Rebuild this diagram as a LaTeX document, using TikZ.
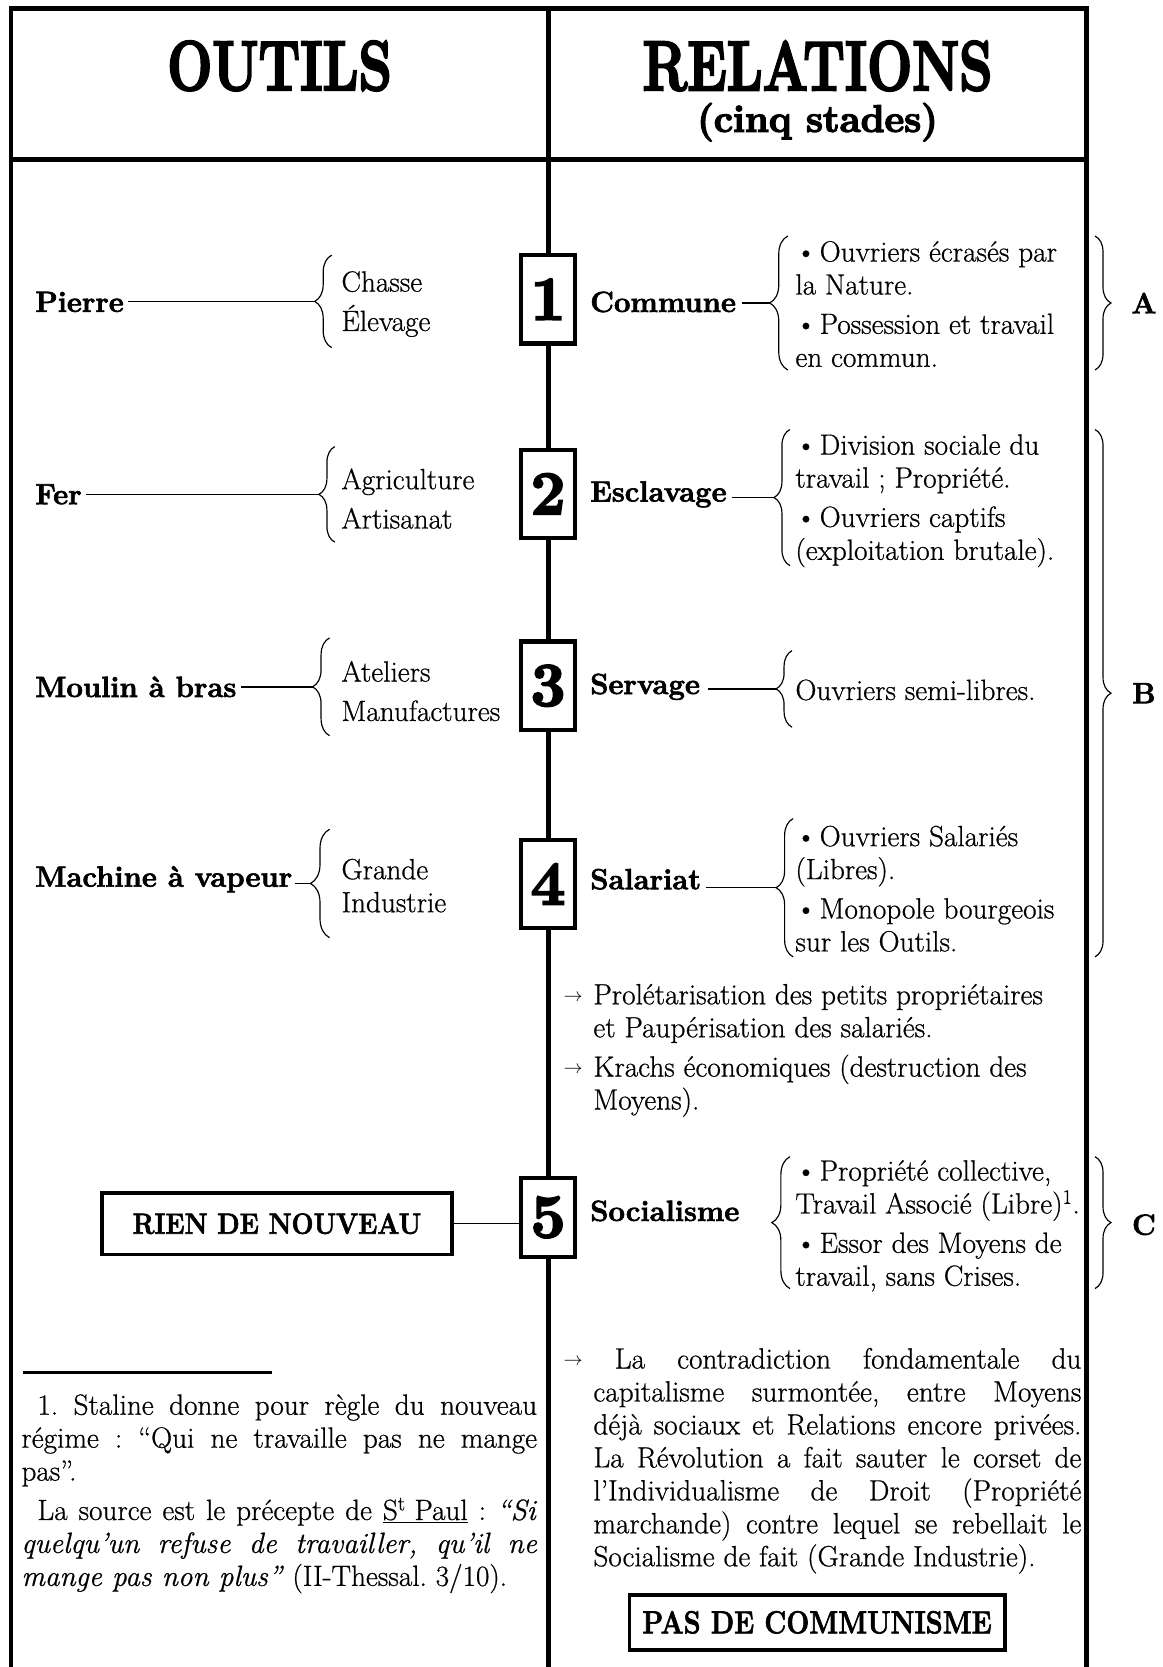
\documentclass[tikz,border=0pt]{standalone}
\usepackage{fontspec}
\setmainfont{Latin Modern Roman}[UprightFeatures={FakeBold=0.7}, ItalicFeatures={FakeBold=0.7}, BoldFeatures={FakeBold=2.2}]
\newfontfamily\heavyfont{Latin Modern Roman}[BoldFeatures={FakeBold=3.5}]
\usepackage{graphicx}
\usetikzlibrary{decorations.pathreplacing,calc}
\frenchspacing

\newlength\fitw
\newcommand\justln[2]{\settowidth\fitw{#2}\ifdim\fitw>#1\relax\resizebox{#1}{\height}{#2}\else\makebox[#1][s]{#2}\fi}
\newcommand\capln[2]{\settowidth\fitw{#2}\ifdim\fitw>#1\relax\resizebox{#1}{\height}{#2}\else#2\fi}
\newcommand\Rl[1]{\capln{270pt}{#1}}
\newcommand\bul{\textbullet\kern3pt}
\newcommand\sarr{\raisebox{0.1em}{\scalebox{0.72}{$\rightarrow$}}}
\newcommand\arr{\makebox[28pt][l]{\sarr}}
\newcommand\bodyfont{\fontsize{27.5}{31}\selectfont}

\tikzset{
  frame/.style={line width=4pt},
  conn/.style={line width=1.4pt},
  brc/.style={line width=1.1pt, decorate, decoration={brace, amplitude=#1}},
  brc/.default=16pt,
  lbl/.style={font=\bodyfont\bfseries, inner sep=0pt, anchor=west},
  txt/.style={font=\bodyfont, inner sep=0pt, anchor=west, align=left},
  numbox/.style={draw, line width=4pt, fill=white, minimum width=51pt, minimum height=83pt, inner sep=0pt, font=\heavyfont\fontsize{58}{58}\selectfont\bfseries},
  capbox/.style={draw, line width=3.5pt, fill=white, inner sep=0pt},
}

\begin{document}
\begin{tikzpicture}[x=1pt,y=-1pt]
\useasboundingbox (0,0) rectangle (1093,1568);

% frame
\draw[frame] (10,1568) -- (10,8) -- (1022,8) -- (1022,1568);
\draw[frame] (10,150) -- (1022,150);
\draw[frame] (516,8) -- (516,1568);

% headers
\node (hout) at (263,62) {\scalebox{0.76}[1]{\heavyfont\fontsize{66}{66}\selectfont\bfseries OUTILS}};
\node (hrel) at (769,62) {\scalebox{0.76}[1]{\heavyfont\fontsize{66}{66}\selectfont\bfseries RELATIONS}};
\node (hcinq) at (769,115) {\heavyfont\fontsize{36}{36}\selectfont\bfseries (cinq stades)};

% number boxes
\node[numbox] (n1) at (515.5,281.5) {1};
\node[numbox] (n2) at (515.5,464.5) {2};
\node[numbox] (n3) at (515.5,645) {3};
\node[numbox] (n4) at (515.5,831.5) {4};
\node[numbox, minimum height=74pt] (n5) at (515.5,1145) {5};

% left labels
\node[lbl] (pierre) at (33,284) {Pierre};
\node[lbl] (fer) at (33,465) {Fer};
\node[lbl] (moulin) at (33,646) {Moulin à bras};
\node[lbl] (machine) at (33,827) {Machine à vapeur};

% left braces and tips
\coordinate (tL1) at (296,283.5);
\coordinate (tL2) at (300,465);
\coordinate (tL3) at (294,646);
\coordinate (tL4) at (292,831);
\draw[brc=16pt] (312,327) -- (312,240);
\draw[brc=15pt] (315,510) -- (315,420);
\draw[brc=16pt] (310,692) -- (310,600);
\draw[brc=18pt] (310,882) -- (310,780);
\draw[conn] ([xshift=4pt]pierre.east |- tL1) -- (tL1);
\draw[conn] ([xshift=4pt]fer.east |- tL2) -- (tL2);
\draw[conn] ([xshift=4pt]moulin.east |- tL3) -- (tL3);
\draw[conn] ([xshift=2pt]machine.east |- tL4) -- (tL4);

% left text blocks
\node[txt] (t1l) at (321,286) {Chasse\\[6pt]Élevage};
\node[txt] (t2l) at (321,469) {Agriculture\\[6pt]Artisanat};
\node[txt] (t3l) at (321,650) {Ateliers\\[6pt]Manufactures};
\node[txt] (t4l) at (321,833) {Grande\\Industrie};

% right labels
\node[lbl] (commune) at (555,284) {Commune};
\node[lbl] (esclavage) at (555,465) {Esclavage};
\node[lbl] (servage) at (555,646) {Servage};
\node[lbl] (salariat) at (555,827) {Salariat};
\node[lbl] (socialisme) at (555,1139) {Socialisme};

% right inner braces
\coordinate (tR1) at (724,285);
\coordinate (tR2) at (728,468);
\coordinate (tR3) at (730,648);
\coordinate (tR4) at (730,835);
\draw[brc=17pt] (741,348) -- (741,222);
\draw[brc=15pt] (743,532) -- (743,404);
\draw[brc=15pt] (745,684) -- (745,612);
\draw[brc=16pt] (746,900) -- (746,770);
\draw[brc=17pt] (743,1212) -- (743,1088);
\draw[conn] ([xshift=5pt]commune.east |- tR1) -- (tR1);
\draw[conn] ([xshift=5pt]esclavage.east |- tR2) -- (tR2);
\draw[conn] ([xshift=7pt]servage.east |- tR3) -- (tR3);
\draw[conn] ([xshift=4pt]salariat.east |- tR4) -- (tR4);

% right text blocks
\node[txt] (t1r) at (748,286) {\Rl{\bul Ouvriers écrasés par}\\\Rl{la Nature.}\\[6pt]\Rl{\bul Possession et travail}\\\Rl{en commun.}};
\node[txt] (t2r) at (748,471) {\Rl{\bul Division sociale du}\\\Rl{travail ; Propriété.}\\[6pt]\Rl{\bul Ouvriers captifs}\\\Rl{(exploitation brutale).}};
\node[txt] (t3r) at (748,649) {Ouvriers semi-libres.};
\node[txt] (t4r) at (748,836) {\Rl{\bul Ouvriers Salariés}\\\Rl{(Libres).}\\[6pt]\Rl{\bul Monopole bourgeois}\\\Rl{sur les Outils.}};
\node[txt] (t5r) at (748,1153) {\Rl{\bul Propriété collective,}\\\Rl{Travail Associé (Libre)\textsuperscript{1}.}\\[6pt]\Rl{\bul Essor des Moyens de}\\\Rl{travail, sans Crises.}};

% outer braces
\draw[brc=15pt] (1030,222) -- (1030,348);
\draw[brc=15pt] (1030,404) -- (1030,900);
\draw[brc=15pt] (1030,1088) -- (1030,1212);
\node[lbl, anchor=center] (la) at (1076,285) {A};
\node[lbl, anchor=center] (lb) at (1076,652) {B};
\node[lbl, anchor=center] (lc) at (1076,1152) {C};

% consequences of stage 4
\node[txt] (cons4) at (530,988) {\arr\capln{459pt}{Prolétarisation des petits propriétaires}\\
\hspace*{28pt}et Paupérisation des salariés.\\[6pt]
\arr\capln{459pt}{Krachs économiques (destruction des}\\
\hspace*{28pt}Moyens).};

% stage 5
\node[capbox, minimum width=329pt, minimum height=58pt] (rien) at (260.5,1151) {\scalebox{0.89}[1]{\bodyfont\bfseries RIEN DE NOUVEAU}};
\draw[conn] (rien.east) -- (rien.east -| n5.west);

% paragraph
\node[txt] (para) at (530,1374) {\justln{487pt}{\sarr{} La contradiction fondamentale du}\\
\hspace*{28pt}\justln{459pt}{capitalisme surmontée, entre Moyens}\\
\hspace*{28pt}\justln{459pt}{déjà sociaux et Relations encore privées.}\\
\hspace*{28pt}\justln{459pt}{La Révolution a fait sauter le corset de}\\
\hspace*{28pt}\justln{459pt}{l’Individualisme de Droit (Propriété}\\
\hspace*{28pt}\justln{459pt}{marchande) contre lequel se rebellait le}\\
\hspace*{28pt}\capln{459pt}{Socialisme de fait (Grande Industrie).}};

\node[capbox, minimum width=353pt, minimum height=52pt] (pas) at (768.5,1526) {\scalebox{0.85}[1]{\fontsize{30}{30}\selectfont\bfseries PAS DE COMMUNISME}};

% footnote
\coordinate (fr1) at (22,1291);
\coordinate (fr2) at (256,1291);
\draw[line width=2.5pt] (fr1) -- (fr2);
\node[txt] (foot) at (20,1405) {\hspace*{15pt}\justln{470pt}{1. Staline donne pour règle du nouveau}\\
\justln{485pt}{régime : “Qui ne travaille pas ne mange}\\
pas”.\\[6pt]
\hspace*{15pt}\justln{470pt}{La source est le précepte de \underline{S\textsuperscript{t} Paul} : \textit{“Si}}\\
\justln{485pt}{\textit{quelqu’un refuse de travailler, qu’il ne}}\\
\capln{485pt}{\textit{mange pas non plus”} (II-Thessal. 3/10).}};
\end{tikzpicture}
\end{document}
